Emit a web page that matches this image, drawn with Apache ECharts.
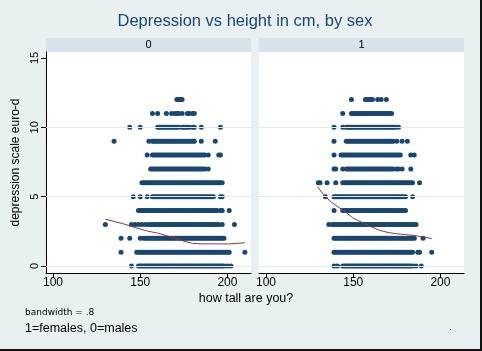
<!DOCTYPE html>
<html lang="en">
<head>
<meta charset="UTF-8">
<title>Depression vs height in cm, by sex</title>
<script src="https://cdn.jsdelivr.net/npm/echarts@6/dist/echarts.min.js"></script>
<style>
  html, body { margin: 0; padding: 0; background: #e8f0f2; }
  #chart { width: 482px; height: 351px; }
</style>
</head>
<body>
<div id="chart"></div>
<script>
// euro-d score per row (index = score)
const scores = [0, 1, 2, 3, 4, 5, 6, 7, 8, 9, 10, 11, 12];

// heights (cm) seen at each score; [a] = one height, [a, b] = every cm from a to b
const males = [
  [[145], [149, 198], [200], [202]],
  [[139], [148, 201], [210]],
  [[139], [144], [150], [152, 198]],
  [[130], [145], [147], [149], [151], [153], [155, 195], [197], [204]],
  [[149, 194], [196, 197], [201]],
  [[146], [150], [154], [157, 192], [196, 197]],
  [[151, 197]],
  [[156, 187], [189]],
  [[154], [157, 187], [189], [195, 196]],
  [[135], [155], [157, 181], [185], [193]],
  [[144], [150], [160, 172], [174, 178], [180, 181], [185], [196]],
  [[157], [160], [165], [168], [170, 172], [174], [177, 178], [180, 181]],
  [[171, 174]]
];

const females = [
  [[139], [141], [144, 184], [186], [189]],
  [[139, 184], [187, 188], [195]],
  [[139, 185], [190]],
  [[136], [138, 186]],
  [[139], [144, 180]],
  [[134], [139, 180], [184]],
  [[130], [131], [135], [140], [144, 184], [188]],
  [[139], [140], [144], [146, 173], [175, 176], [178], [183]],
  [[139], [143, 177], [183], [185]],
  [[139], [146, 173], [175], [178], [181]],
  [[139], [144], [146, 174], [176]],
  [[144], [149, 172]],
  [[149], [157, 161], [164], [166], [169]]
];

// lowess smooth, bandwidth .8
const lowessX0 = [130, 135, 140, 145, 150, 155, 160, 165, 170, 175, 180, 185, 190, 195, 200, 205, 210];
const lowessY0 = [3.38, 3.22, 3.06, 2.86, 2.67, 2.5, 2.38, 2.2, 2.0, 1.8, 1.64, 1.6, 1.6, 1.6, 1.59, 1.63, 1.68];
const lowessX1 = [129.5, 133, 137, 141, 145, 150, 155, 160, 165, 170, 175, 180, 185, 190, 195];
const lowessY1 = [5.72, 5.15, 4.65, 4.3, 3.95, 3.45, 3.15, 2.85, 2.58, 2.42, 2.33, 2.27, 2.2, 2.1, 1.98];

const xTicks = [100, 150, 200];
const yTicks = [0, 5, 10, 15];
const gridAt = [0, 5, 10];
const panelLabels = ['0', '1'];

function toPoints(rows) {
  const pts = [];
  rows.forEach((runs, i) => {
    runs.forEach(r => {
      const a = r[0], b = r.length > 1 ? r[1] : r[0];
      for (let h = a; h <= b; h++) pts.push([h, scores[i]]);
    });
  });
  return pts;
}
function zip(xs, ys) { return xs.map((x, i) => [x, ys[i]]); }

const FONT = 'Liberation Sans, Arial, sans-serif';
const navy = '#1a476f';
const maroon = '#90353b';
const panelLeft = [46, 259];
const panelW = 205;

const chart = echarts.init(document.getElementById('chart'));

const xAxisBase = {
  type: 'value', min: 96, max: 213.5,
  axisLine: { show: true, onZero: false, lineStyle: { color: '#000', width: 1 } },
  axisTick: { show: true, length: 5, customValues: xTicks, lineStyle: { color: '#000' } },
  axisLabel: { customValues: xTicks, color: '#000', fontSize: 12, fontFamily: FONT, margin: 4 },
  splitLine: { show: false }
};

const option = {
  backgroundColor: '#e8f0f2',
  animation: false,
  grid: [
    { left: panelLeft[0], top: 52, width: panelW, height: 221, backgroundColor: '#fff', show: true, borderWidth: 0 },
    { left: panelLeft[1], top: 52, width: panelW, height: 221, backgroundColor: '#fff', show: true, borderWidth: 0 }
  ],
  xAxis: [
    Object.assign({ gridIndex: 0 }, xAxisBase),
    Object.assign({ gridIndex: 1 }, xAxisBase)
  ],
  yAxis: [
    {
      gridIndex: 0, type: 'value', min: -0.5, max: 15.43,
      name: 'depression scale euro-d', nameLocation: 'middle', nameGap: 24,
      nameTextStyle: { color: '#000', fontSize: 12, fontFamily: FONT },
      axisLine: { show: true, lineStyle: { color: '#000', width: 1 } },
      axisTick: { show: true, length: 5, customValues: yTicks, lineStyle: { color: '#000' } },
      axisLabel: { customValues: yTicks, rotate: 90, color: '#000', fontSize: 11, fontFamily: FONT, margin: 6 },
      splitLine: { show: false }
    },
    {
      gridIndex: 1, type: 'value', min: -0.5, max: 15.43,
      axisLine: { show: false }, axisTick: { show: false }, axisLabel: { show: false },
      splitLine: { show: false }
    }
  ],
  series: [0, 1].flatMap(i => [
    {
      type: 'line', xAxisIndex: i, yAxisIndex: i, data: [], z: 1, silent: true,
      markLine: {
        silent: true, symbol: 'none', label: { show: false },
        lineStyle: { color: '#e4e9ec', width: 1, type: 'solid' },
        data: gridAt.map(v => ({ yAxis: v }))
      }
    },
    {
      type: 'scatter', xAxisIndex: i, yAxisIndex: i, z: 2,
      data: toPoints(i === 0 ? males : females),
      symbol: 'circle', symbolSize: 5,
      itemStyle: { color: navy, opacity: 1 }
    },
    {
      type: 'line', xAxisIndex: i, yAxisIndex: i, z: 3,
      data: i === 0 ? zip(lowessX0, lowessY0) : zip(lowessX1, lowessY1),
      showSymbol: false, symbol: 'none',
      lineStyle: { color: maroon, width: 1 }
    }
  ]),
  graphic: [
    { type: 'text', x: 245, y: 21, style: { text: 'Depression vs height in cm, by sex', fill: navy, font: '16.5px ' + FONT, align: 'center', verticalAlign: 'middle' } },
    ...panelLeft.flatMap((x, i) => [
      { type: 'rect', shape: { x: x, y: 38, width: panelW, height: 14 }, style: { fill: '#d8e3e9' } },
      { type: 'text', x: x + panelW / 2, y: 45, style: { text: panelLabels[i], fill: '#000', font: '11px ' + FONT, align: 'center', verticalAlign: 'middle' } }
    ]),
    { type: 'text', x: 246, y: 299, style: { text: 'how tall are you?', fill: '#000', font: '12.5px ' + FONT, align: 'center', verticalAlign: 'middle' } },
    { type: 'text', x: 25, y: 313, style: { text: 'bandwidth = .8', fill: '#000', font: '9px DejaVu Sans, sans-serif', verticalAlign: 'middle' } },
    { type: 'text', x: 25, y: 329, style: { text: '1=females, 0=males', fill: '#000', font: '12.5px ' + FONT, verticalAlign: 'middle' } },
    { type: 'rect', shape: { x: 450, y: 329, width: 1, height: 1 }, style: { fill: '#333' } },
    { type: 'rect', shape: { x: 480, y: 0, width: 2, height: 351 }, style: { fill: '#111' } },
    { type: 'rect', shape: { x: 0, y: 349, width: 482, height: 2 }, style: { fill: '#111' } }
  ]
};

chart.setOption(option);
</script>
</body>
</html>
